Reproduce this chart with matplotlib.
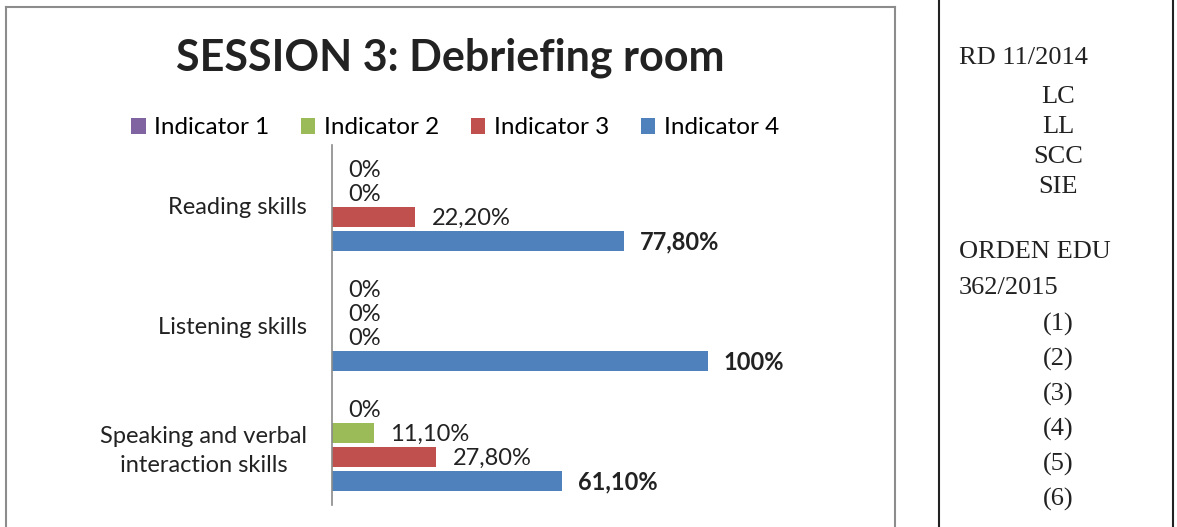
import matplotlib
matplotlib.use('Agg')
import matplotlib.pyplot as plt
import numpy as np
from matplotlib.patches import Patch
from matplotlib.lines import Line2D

# ---------------- data ----------------
categories = ["Reading skills", "Listening skills", "Speaking and verbal\ninteraction skills"]
series_names = ["Indicator 1", "Indicator 2", "Indicator 3", "Indicator 4"]
ind1 = [0, 0, 0]
ind2 = [0, 0, 11.1]
ind3 = [22.2, 0, 27.8]
ind4 = [77.8, 100, 61.1]
ind1_labels = ["0%", "0%", "0%"]
ind2_labels = ["0%", "0%", "11,10%"]
ind3_labels = ["22,20%", "0%", "27,80%"]
ind4_labels = ["77,80%", "100%", "61,10%"]
colors = ["#8064A2", "#9BBB59", "#C0504D", "#4F81BD"]
title = "SESSION 3: Debriefing room"

side_head1 = ["RD 11/2014"]
side_items1 = ["LC", "LL", "SCC", "SIE"]
side_head2 = ["ORDEN EDU", "362/2015"]
side_items2 = ["(1)", "(2)", "(3)", "(4)", "(5)", "(6)"]

series = [ind1, ind2, ind3, ind4]
series_labels = [ind1_labels, ind2_labels, ind3_labels, ind4_labels]

plt.rcParams['font.family'] = ['Lato', 'DejaVu Sans']

W, H = 1177, 527
fig = plt.figure(figsize=(W / 100, H / 100), dpi=100)

def fx(px):
    return px / W

def fy(py):
    return 1 - py / H

ax = fig.add_axes([fx(332), fy(505), fx(858) - fx(332), fy(145) - fy(505)])

slot = 0.2
bar_h = 0.16
base = np.arange(len(categories))
for i, (vals, labs) in enumerate(zip(series, series_labels)):
    y = base + (i - 1.5) * slot
    ax.barh(y, vals, height=bar_h, color=colors[i], label=series_names[i])
    for v, yy, t in zip(vals, y, labs):
        ax.annotate(t, (v, yy), xytext=(11.5, -1), textcoords='offset points',
                    ha='left', va='center', fontsize=17, color='#222222',
                    fontweight='bold' if i == 3 else 'normal')

ax.set_xlim(0, 140)
ax.set_ylim(2.5, -0.5)
ax.set_yticks(base)
ax.set_yticklabels(categories, fontsize=17, color='#222222', ha='right',
                   multialignment='center', linespacing=1.45)
ax.set_xticks([])
ax.tick_params(axis='y', length=0, pad=18)
for s in ['top', 'right', 'bottom']:
    ax.spines[s].set_visible(False)
ax.spines['left'].set_color('#8a8a8a')
ax.spines['left'].set_linewidth(1.2)

# legend
handles = [Patch(facecolor=c, edgecolor='none') for c in colors]
fig.legend(handles, series_names, loc='center', bbox_to_anchor=(fx(455), fy(128)),
           ncol=4, frameon=False, fontsize=17.5, handlelength=0.6, handleheight=0.6,
           handletextpad=0.35, columnspacing=1.3)

fig.text(fx(450), fy(58), title, fontsize=31, fontweight='bold', color='#222222',
         ha='center', va='center')

# chart border
bc = '#8c8c8c'
fig.add_artist(Line2D([fx(6), fx(6)], [fy(7), 0], color=bc, lw=1.5))
fig.add_artist(Line2D([fx(6), fx(895)], [fy(7), fy(7)], color=bc, lw=1.5))
fig.add_artist(Line2D([fx(895), fx(895)], [fy(7), 0], color=bc, lw=1.5))

# table lines
fig.add_artist(Line2D([fx(939), fx(939)], [0, 1], color='#222222', lw=1.5))
fig.add_artist(Line2D([fx(1173), fx(1173)], [0, 1], color='#222222', lw=1.5))

serif = ['Liberation Serif', 'DejaVu Serif']
fs = 19
fig.text(fx(959), fy(58), side_head1[0], fontsize=fs, family=serif, ha='left', va='center', color='#222222')
for k, t in enumerate(side_items1):
    fig.text(fx(1058), fy(97 + 30 * k), t, fontsize=fs, family=serif, ha='center', va='center', color='#222222')
for k, t in enumerate(side_head2):
    fig.text(fx(959), fy(252 + 36 * k), t, fontsize=fs, family=serif, ha='left', va='center', color='#222222')
for k, t in enumerate(side_items2):
    fig.text(fx(1058), fy(324 + 35 * k), t, fontsize=fs, family=serif, ha='center', va='center', color='#222222')

fig.savefig('out.png', dpi=100)
